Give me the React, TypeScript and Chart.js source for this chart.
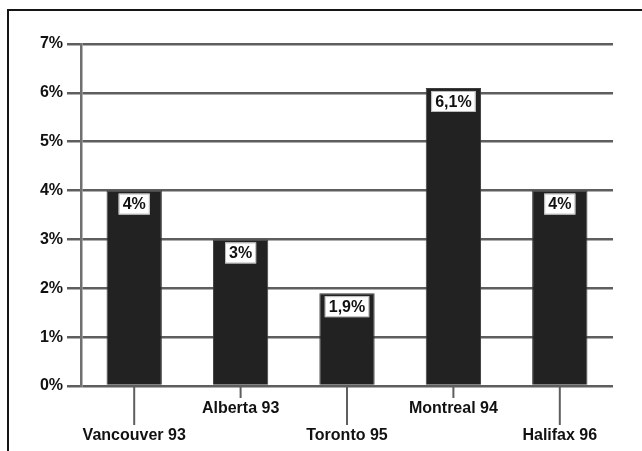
import React, { useEffect, useRef } from "react";
import { Chart, registerables } from "chart.js";

Chart.register(...registerables);

const categories = ["Vancouver 93", "Alberta 93", "Toronto 95", "Montreal 94", "Halifax 96"];
const values = [4, 3, 1.9, 6.1, 4];
const yTicks = [0, 1, 2, 3, 4, 5, 6, 7];

const FONT = "'Liberation Sans', Arial, Helvetica, sans-serif";

const labelsPlugin = {
  id: "customLabels",
  afterDatasetsDraw(chart: any) {
    const ctx = chart.ctx;
    const xs = chart.scales.x;
    const meta = chart.getDatasetMeta(0);
    const bottom = chart.chartArea.bottom;
    ctx.save();
    // value boxes
    ctx.font = `bold 16px ${FONT}`;
    ctx.textAlign = "center";
    ctx.textBaseline = "middle";
    meta.data.forEach((bar: any, i: number) => {
      const txt = String(values[i]).replace(".", ",") + "%";
      const w = ctx.measureText(txt).width + 8;
      const h = 21;
      const top = bar.y + 3;
      ctx.fillStyle = "#ffffff";
      ctx.fillRect(bar.x - w / 2, top, w, h);
      ctx.strokeStyle = "#bbbbbb";
      ctx.lineWidth = 1;
      ctx.strokeRect(bar.x - w / 2 + 0.5, top + 0.5, w - 1, h - 1);
      ctx.fillStyle = "#111111";
      ctx.fillText(txt, bar.x, top + h / 2 + 1);
    });
    // staggered category labels with leader ticks
    categories.forEach((c, i) => {
      const x = xs.getPixelForValue(i);
      const low = i % 2 === 0;
      const tickEnd = bottom + (low ? 39 : 12);
      ctx.strokeStyle = "#5e5e5e";
      ctx.lineWidth = 2;
      ctx.beginPath();
      ctx.moveTo(x, bottom);
      ctx.lineTo(x, tickEnd);
      ctx.stroke();
      ctx.fillStyle = "#111111";
      ctx.fillText(c, x, bottom + (low ? 50 : 23));
    });
    ctx.restore();
  },
};

export default function App() {
  const ref = useRef<HTMLCanvasElement>(null);
  useEffect(() => {
    if (!ref.current) return;
    const chart = new Chart(ref.current, {
      type: "bar",
      data: {
        labels: categories,
        datasets: [
          {
            data: values,
            backgroundColor: "#222222",
            borderColor: "#3c3c3c",
            borderWidth: 1,
            barPercentage: 0.52,
            categoryPercentage: 1,
          },
        ],
      },
      options: {
        animation: false,
        responsive: false,
        maintainAspectRatio: false,
        layout: { padding: { top: 44, right: 29, bottom: 65, left: 0 } },
        plugins: { legend: { display: false }, tooltip: { enabled: false } },
        scales: {
          x: { display: false },
          y: {
            min: 0,
            max: 7,
            afterFit: (s: any) => {
              s.width = 81;
            },
            afterBuildTicks: (s: any) => {
              s.ticks = yTicks.map((v) => ({ value: v }));
            },
            ticks: {
              font: { family: FONT, size: 16, weight: "bold" },
              color: "#111111",
              padding: 4,
              callback: (v: any) => v + "%",
            },
            grid: {
              color: "#5e5e5e",
              lineWidth: 2.5,
              tickLength: 14,
              tickColor: "#5e5e5e",
            },
            border: { display: true, color: "#707070", width: 2.5 },
          },
        },
      },
      plugins: [labelsPlugin],
    });
    return () => chart.destroy();
  }, []);

  return (
    <div style={{ position: "absolute", left: 0, top: 0, width: 642, height: 451, overflow: "hidden" }}>
      <canvas ref={ref} width={642} height={451} style={{ position: "absolute", left: 0, top: 0, width: 642, height: 451 }} />
      <div
        style={{
          position: "absolute",
          left: 7,
          top: 9,
          width: 635,
          height: 442,
          borderTop: "2px solid #151515",
          borderLeft: "2px solid #151515",
          boxSizing: "border-box",
          pointerEvents: "none",
        }}
      />
    </div>
  );
}
